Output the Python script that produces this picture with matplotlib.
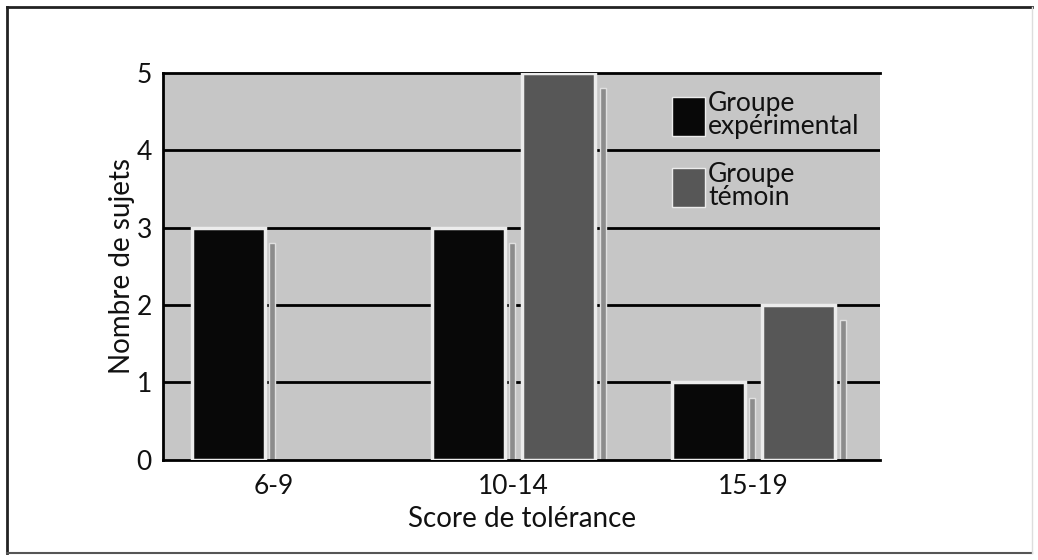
import numpy as np
import matplotlib
matplotlib.use('Agg')
import matplotlib.pyplot as plt
from matplotlib.lines import Line2D
from matplotlib.patches import Patch

plt.rcParams['font.family'] = ['Lato', 'DejaVu Sans']

# données
scores = ['6-9', '10-14', '15-19']
experimental = [3, 3, 1]
temoin = [0, 5, 2]
noms = ['Groupe\nexpérimental', 'Groupe\ntémoin']

fig = plt.figure(figsize=(10.38, 5.6), dpi=100)
ax = fig.add_axes([0.157, 0.179, 0.691, 0.691])

x = np.arange(len(scores))
w = 0.305
dx = 0.188
bord = '#ececec'

# fond gris et lignes horizontales
ax.set_facecolor('#c6c6c6')
for y in range(1, 5):
    ax.axhline(y, color='black', lw=2, zorder=1)

# barres (pas de contour quand la valeur est nulle)
ax.bar(x - dx, experimental, w, color='#080808', lw=2.5, zorder=3,
       edgecolor=[bord if v > 0 else 'none' for v in experimental])
ax.bar(x + dx, temoin, w, color='#575757', lw=2.5, zorder=3,
       edgecolor=[bord if v > 0 else 'none' for v in temoin])

# petite ombre à droite de chaque barre
ombre = 0.2
for i in range(len(scores)):
    for dec, v in [(-dx, experimental[i]), (dx, temoin[i])]:
        if v > 0:
            ax.bar(x[i] + dec + w / 2 + 0.03, v - ombre, 0.025, color='#8c8c8c',
                   edgecolor='#e0e0e0', lw=1, zorder=2)

ax.set_xlim(-0.46, 2.527)
ax.set_ylim(0, 5)
ax.set_yticks(range(6))
ax.set_xticks(x)
ax.set_xticklabels(scores)
ax.tick_params(length=0, labelsize=19, colors='#111111')
ax.tick_params(axis='y', pad=8)
ax.tick_params(axis='x', pad=10)

for s in ['left', 'top', 'bottom']:
    ax.spines[s].set_linewidth(2)
    ax.spines[s].set_color('black')
ax.spines['right'].set_visible(False)

ax.set_xlabel('Score de tolérance', fontsize=20, labelpad=5, color='#111111')
ax.set_ylabel('Nombre de sujets', fontsize=20, labelpad=1, color='#111111')

# légende
poignees = [Patch(facecolor='#080808', edgecolor=bord),
            Patch(facecolor='#575757', edgecolor=bord)]
leg = ax.legend(poignees, noms, loc='upper left', bbox_to_anchor=(0.695, 0.98),
                frameon=False, fontsize=19, handlelength=1.25, handleheight=1.9,
                handletextpad=0.12, labelspacing=0.85, borderaxespad=0)
for t in leg.get_texts():
    t.set_linespacing(0.9)
    t.set_color('#111111')

# cadre autour de la figure
fig.add_artist(Line2D([0.0067, 0.0067], [0.0125, 0.9875], color='#222222', lw=2))
fig.add_artist(Line2D([0.0067, 0.994], [0.9875, 0.9875], color='#222222', lw=2))
fig.add_artist(Line2D([0.0067, 0.994], [0.0125, 0.0125], color='#555555', lw=1.5))
fig.add_artist(Line2D([0.994, 0.994], [0.0125, 0.9875], color='#dddddd', lw=1))

fig.savefig('out.png', dpi=100)
